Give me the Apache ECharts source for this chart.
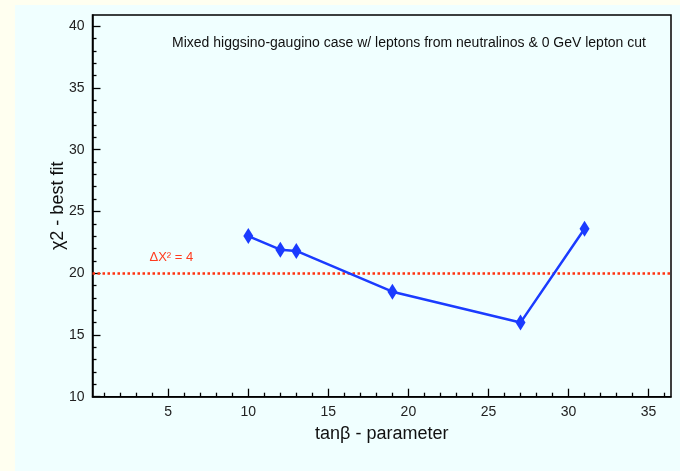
<!DOCTYPE html>
<html>
<head>
<meta charset="utf-8">
<script src="https://cdn.jsdelivr.net/npm/echarts@6/dist/echarts.min.js"></script>
<style>
  html, body { margin: 0; padding: 0; background: #fffff0; }
  #chartBox { width: 680px; height: 471px; }
</style>
</head>
<body>
<div id="chartBox"></div>
<script>
// tan(beta) scan points and chi2 of the best fit
var tanBeta = [10, 12, 13, 19, 27, 31];
var chi2Best = [23.0, 21.9, 21.8, 18.5, 16.0, 23.6];
// delta chi2 = 4 reference level
var refLevel = [20];
var refLabel = 'ΔX² = 4';

var xMajor = [5, 10, 15, 20, 25, 30, 35];
var xMinor = [1, 2, 3, 4, 6, 7, 8, 9, 11, 12, 13, 14, 16, 17, 18, 19, 21, 22, 23, 24, 26, 27, 28, 29, 31, 32, 33, 34, 36];
var yMajor = [10, 15, 20, 25, 30, 35, 40];
var yMinor = [11, 12, 13, 14, 16, 17, 18, 19, 21, 22, 23, 24, 26, 27, 28, 29, 31, 32, 33, 34, 36, 37, 38, 39];

var chart = echarts.init(document.getElementById('chartBox'));
var font = 'Liberation Sans, Arial, sans-serif';
var xMin = 0.27, xMax = 36.4, yMin = 10, yMax = 40.9;

function tickAxis(values, len, withLabel, extra) {
  var ax = {
    type: 'value',
    min: extra.min,
    max: extra.max,
    position: extra.position,
    splitLine: { show: false },
    axisLine: { show: withLabel, onZero: false, lineStyle: { color: '#000', width: 1.5 } },
    axisTick: { show: true, inside: true, length: len, customValues: values, lineStyle: { color: '#000', width: 1.3 } },
    axisLabel: { show: withLabel, customValues: values, color: '#222', fontSize: 14, fontFamily: font, margin: extra.margin }
  };
  if (extra.name) {
    ax.name = extra.name;
    ax.nameLocation = 'middle';
    ax.nameGap = extra.nameGap;
    ax.nameMoveOverlap = false;
    ax.nameTextStyle = { color: '#111', fontSize: 18, fontFamily: font };
  }
  return ax;
}

var option = {
  backgroundColor: '#fffff0',
  graphic: [{
    type: 'rect', left: 15, top: 5, z: -10,
    shape: { width: 700, height: 500 },
    style: { fill: '#f0ffff' }
  }],
  title: {
    text: 'Mixed higgsino-gaugino case w/ leptons from neutralinos & 0 GeV lepton cut',
    left: 167, top: 31,
    textStyle: { fontSize: 14, fontWeight: 'normal', color: '#111', fontFamily: font }
  },
  grid: {
    left: 92.5, right: 9, top: 15, bottom: 74.3,
    show: true, borderColor: '#000', borderWidth: 1.5, backgroundColor: 'transparent'
  },
  xAxis: [
    tickAxis(xMajor, 8, true, { min: xMin, max: xMax, position: 'bottom', margin: 8, name: 'tanβ - parameter', nameGap: 28 }),
    tickAxis(xMinor, 4, false, { min: xMin, max: xMax, position: 'bottom' })
  ],
  yAxis: [
    tickAxis(yMajor, 8, true, { min: yMin, max: yMax, position: 'left', margin: 8, name: 'χ2 - best fit', nameGap: 25 }),
    tickAxis(yMinor, 4, false, { min: yMin, max: yMax, position: 'left' })
  ],
  series: [{
    type: 'line',
    data: tanBeta.map(function (t, i) { return [t, chi2Best[i]]; }),
    symbol: 'diamond',
    symbolSize: [10, 16],
    itemStyle: { color: '#1b3bff' },
    lineStyle: { color: '#1b3bff', width: 2.5 },
    z: 5,
    markLine: {
      silent: true,
      symbol: 'none',
      lineStyle: { color: '#ff3311', type: 'dotted', width: 2.5 },
      label: {
        show: true, position: 'insideStartTop', formatter: refLabel,
        color: '#ff3b1f', fontSize: 13, fontFamily: font, distance: [57, 9]
      },
      data: refLevel.map(function (v) { return { yAxis: v }; })
    }
  }]
};
chart.setOption(option);
</script>
</body>
</html>
